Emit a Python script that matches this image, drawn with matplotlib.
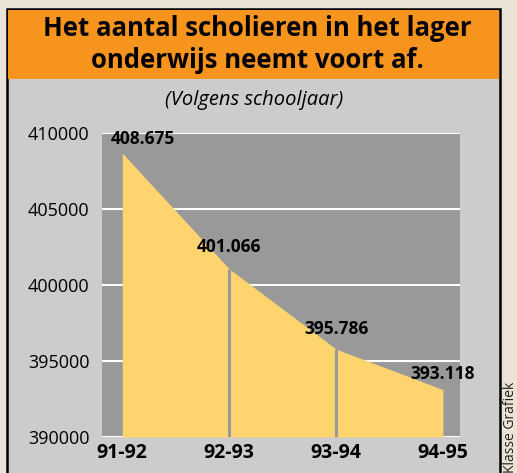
import numpy as np
import matplotlib.pyplot as plt
from matplotlib.patches import Rectangle

years = ['91-92', '92-93', '93-94', '94-95']
students = [408675, 401066, 395786, 393118]
labels = ['408.675', '401.066', '395.786', '393.118']
yticks = [390000, 395000, 400000, 405000, 410000]

plt.rcParams['font.family'] = ['Open Sans', 'DejaVu Sans']

W, H = 517, 473
fig = plt.figure(figsize=(W / 100, H / 100), dpi=100)
fig.patch.set_facecolor('#ebe4d6')

def px(x0, y0, x1, y1):
    # pixel box (top-left origin) -> figure fraction rect
    return (x0 / W, 1 - y1 / H), (x1 - x0) / W, (y1 - y0) / H

# grey panel + orange header + frame
xy, w, h = px(7, 9, 500, 480)
fig.patches.append(Rectangle(xy, w, h, transform=fig.transFigure,
                             facecolor='#cccccc', edgecolor='black', lw=1.8, zorder=-2))
xy, w, h = px(8, 10, 499, 79)
fig.patches.append(Rectangle(xy, w, h, transform=fig.transFigure,
                             facecolor='#f7941d', edgecolor='none', zorder=-1))

fig.text(257 / W, 1 - 29 / H, 'Het aantal scholieren in het lager', ha='center', va='center',
         fontsize=18.5, fontweight='bold')
fig.text(257 / W, 1 - 60 / H, 'onderwijs neemt voort af.', ha='center', va='center',
         fontsize=18.5, fontweight='bold')
fig.text(254 / W, 1 - 100 / H, '(Volgens schooljaar)', ha='center', va='center',
         fontsize=14.5, style='italic')
fig.text(510 / W, 1 - 473 / H, 'Klasse Grafiek', ha='center', va='bottom', rotation=90,
         fontsize=10, color='#222222')

ax = fig.add_axes([102 / W, 1 - 437 / H, (460 - 102) / W, (437 - 133) / H])
ax.set_facecolor('#999999')
x = np.arange(len(years))
ax.set_xlim(-0.19, 3.16)
ax.set_ylim(390000, 410000)

for i in range(len(x) - 1):
    ax.fill_between(x[i:i + 2], students[i:i + 2], 390000, color='#fed46e', lw=0, zorder=2)
ax.vlines(x[1:-1], 390000, students[1:-1], color='#999999', lw=2.2, zorder=3)

offsets = [(0.19, 14), (0, 22), (0, 20), (0, 16)]
for xi, v, lab, (dx, dy) in zip(x, students, labels, offsets):
    ax.annotate(lab, (xi + dx, v), xytext=(0, dy * 0.72), textcoords='offset points',
                ha='center', va='center', fontsize=12.5, fontweight='bold', zorder=4)

ax.set_yticks(yticks)
ax.set_yticklabels([str(t) for t in yticks])
ax.set_xticks(x)
ax.set_xticklabels(years)
ax.tick_params(length=0)
ax.tick_params(axis='y', labelsize=13, pad=9)
ax.tick_params(axis='x', labelsize=14, pad=4)
for t in ax.get_xticklabels():
    t.set_fontweight('bold')
ax.grid(axis='y', color='white', lw=1.5, zorder=1)
ax.set_axisbelow(True)
for s in ax.spines.values():
    s.set_visible(False)

fig.savefig('out.png', dpi=100, facecolor=fig.get_facecolor())
